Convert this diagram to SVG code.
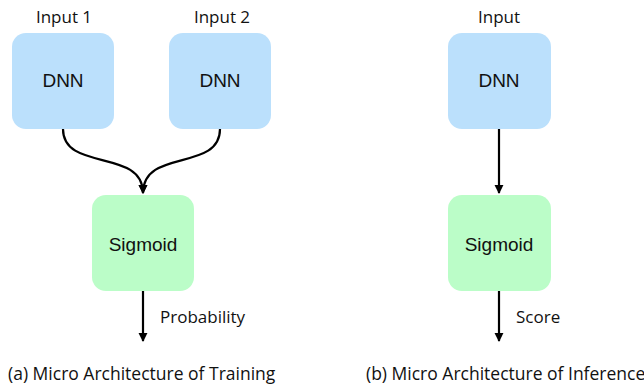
<svg xmlns="http://www.w3.org/2000/svg" width="644" height="390" viewBox="0 0 644 390">
  <style>
    .dnn { fill: #bbe0fc; }
    .sig { fill: #bbfdc8; }
    .box-label { font-family: "Liberation Sans", Arial, sans-serif; font-size: 19px; fill: #111; text-anchor: middle; }
    .label { font-family: "Open Sans", "Liberation Sans", sans-serif; font-size: 17px; fill: #111; }
    .caption { font-family: "Open Sans", "Liberation Sans", sans-serif; font-size: 17.5px; fill: #111; }
    .mid { text-anchor: middle; }
    .edge { fill: none; stroke: #000; stroke-width: 2.2; }
  </style>
  <defs>
    <marker id="arrow" viewBox="0 0 10 10" refX="9" refY="5" markerWidth="4.2" markerHeight="4.2" orient="auto" markerUnits="strokeWidth">
      <path d="M0,0 L10,5 L0,10 z" fill="#000"/>
    </marker>
  </defs>

  <rect width="644" height="390" fill="#fff"/>

  <!-- (a) training -->
  <g id="input1-dnn">
    <text class="label mid" x="64" y="23">Input 1</text>
    <rect class="dnn" x="12" y="33" width="102" height="96" rx="14"/>
    <text class="box-label" x="63" y="87">DNN</text>
  </g>
  <g id="input2-dnn">
    <text class="label mid" x="222" y="23">Input 2</text>
    <rect class="dnn" x="169" y="33" width="102" height="96" rx="14"/>
    <text class="box-label" x="220" y="87">DNN</text>
  </g>
  <g id="train-sigmoid">
    <rect class="sig" x="92" y="195" width="102" height="96" rx="14"/>
    <text class="box-label" x="143" y="251">Sigmoid</text>
  </g>

  <!-- (b) inference -->
  <g id="infer-dnn">
    <text class="label mid" x="499" y="23">Input</text>
    <rect class="dnn" x="448" y="33" width="103" height="96" rx="14"/>
    <text class="box-label" x="499" y="87">DNN</text>
  </g>
  <g id="infer-sigmoid">
    <rect class="sig" x="448" y="195" width="103" height="96" rx="14"/>
    <text class="box-label" x="499" y="251">Sigmoid</text>
  </g>

  <g id="connectors">
    <path class="edge" d="M63,129 C63,172 143,148 143,193" marker-end="url(#arrow)"/>
    <path class="edge" d="M220,129 C220,172 143,148 143,193" marker-end="url(#arrow)"/>
    <path class="edge" d="M143,291 L143,341" marker-end="url(#arrow)"/>
    <path class="edge" d="M499,129 L499,193" marker-end="url(#arrow)"/>
    <path class="edge" d="M499,291 L499,341" marker-end="url(#arrow)"/>
  </g>

  <g id="edge-labels">
    <text class="label" x="160" y="323">Probability</text>
    <text class="label" x="516" y="323">Score</text>
  </g>

  <g id="captions">
    <text class="caption" x="8" y="380">(a) Micro Architecture of Training</text>
    <text class="caption" x="366" y="380">(b) Micro Architecture of Inference</text>
  </g>
</svg>
